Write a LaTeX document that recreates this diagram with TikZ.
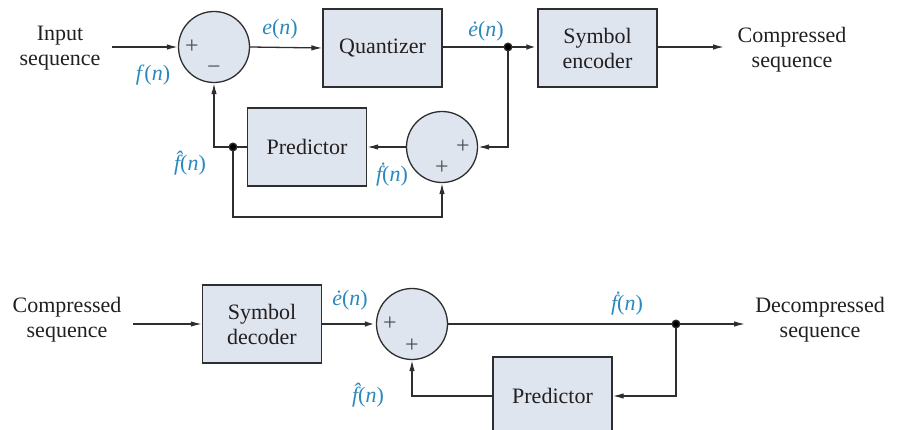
\documentclass[tikz,border=0pt]{standalone}
\usepackage{fontspec}
\setmainfont{Liberation Serif}
\usetikzlibrary{arrows.meta}
\definecolor{boxfill}{HTML}{DFE5EF}
\definecolor{lab}{HTML}{2A88BC}
\definecolor{ln}{HTML}{2E2E2E}
\definecolor{tx}{HTML}{231F20}
\newcommand\fhat{{\itshape f^^^^0302}}
\newcommand\fdot{{\itshape ^^^^1e1f}}
\newcommand\edot{{\itshape ^^^^0117}}
\begin{document}
\begin{tikzpicture}[x=1pt,y=-1pt,
  fnt/.style={font=\fontsize{22}{25}\selectfont},
  blk/.style={draw=ln,line width=1.3pt,fill=boxfill,minimum width=119pt,minimum height=78pt,inner sep=0pt,align=center,text=tx,fnt},
  sumnode/.style={draw=ln,line width=1.3pt,fill=boxfill,circle,minimum size=71pt,inner sep=0pt},
  txt/.style={align=center,text=tx,fnt,inner sep=0pt},
  lbl/.style={text=lab,fnt,inner sep=0pt},
  sgn/.style={text=ln!85,font=\fontsize{24}{24}\selectfont,inner sep=0pt},
  arr/.style={draw=ln,line width=1.3pt,-{Latex[length=11pt,width=5.5pt]}},
  thk/.style={draw=ln,line width=2.2pt,-{Latex[length=11pt,width=5.5pt]}},
  ln/.style={draw=ln,line width=1.3pt}
]
\useasboundingbox (0,0) rectangle (901,430);
\clip (0,0) rectangle (901,430);
% ---------- top ----------
\node[txt] (in) at (60,48) {Input\\sequence};
\coordinate (inE) at (112,47);
\node[sumnode] (s1) at (214,47) {};
\node[sgn] at (192,47) {+};
\node[sgn] at (214,70) {\symbol{"2212}};
\node[blk] (q) at (382.5,48) {Quantizer};
\coordinate (j1) at (508,47);
\node[blk] (enc) at (597.5,48) {Symbol\\encoder};
\coordinate (outS) at (724,47);
\node[txt] (out) at (792,50) {Compressed\\sequence};
\node[blk] (p1) at (307,147) {Predictor};
\node[sumnode] (s2) at (442,147) {};
\node[sgn] at (463,147) {+};
\node[sgn] at (442,168) {+};
\coordinate (j2) at (233,147);
\coordinate (c1) at (233,217);

\draw[arr] (inE) -- (s1.west);
\draw[arr] (s1.east) -- (q.west);
\draw[thk] (q.east |- j1) -- (j1) -- (enc.west |- j1);
\draw[arr] (enc.east |- outS) -- (outS);
\draw[arr] (j1) |- (s2.east);
\draw[arr] (s2.west) -- (p1.east);
\draw[arr] (p1.west) -| (s1.south);
\draw[arr] (j2) -- (c1) -| (s2.south);
\fill[ln] (j1) circle (3.8);
\fill[ln] (j2) circle (3.8);

\node[lbl] at (153,75) {\textit{f}(\textit{n})};
\node[lbl] at (280,29) {\textit{e}(\textit{n})};
\node[lbl] at (486,31) {\edot(\textit{n})};
\node[lbl] at (190,163) {\fhat(\textit{n})};
\node[lbl] at (392,175) {\fdot(\textit{n})};

% ---------- bottom ----------
\node[txt] (cin) at (67,320) {Compressed\\sequence};
\coordinate (cinE) at (133,324);
\node[blk] (dec) at (262,324) {Symbol\\decoder};
\node[sumnode] (s3) at (412,324) {};
\node[sgn] at (390,324) {+};
\node[sgn] at (412,346) {+};
\coordinate (j3) at (676,324);
\coordinate (dout) at (745,324);
\node[txt] (dcs) at (820,320) {Decompressed\\sequence};
\node[blk] (p2) at (552.5,396) {Predictor};

\draw[arr] (cinE) -- (dec.west);
\draw[thk] (dec.east) -- (s3.west);
\draw[arr] (s3.east) -- (j3) -- (dout);
\draw[arr] (j3) |- (p2.east);
\draw[arr] (p2.west) -| (s3.south);
\fill[ln] (j3) circle (3.8);

\node[lbl] at (350,300) {\edot(\textit{n})};
\node[lbl] at (627,304) {\fdot(\textit{n})};
\node[lbl] at (368,395) {\fhat(\textit{n})};
\end{tikzpicture}
\end{document}
